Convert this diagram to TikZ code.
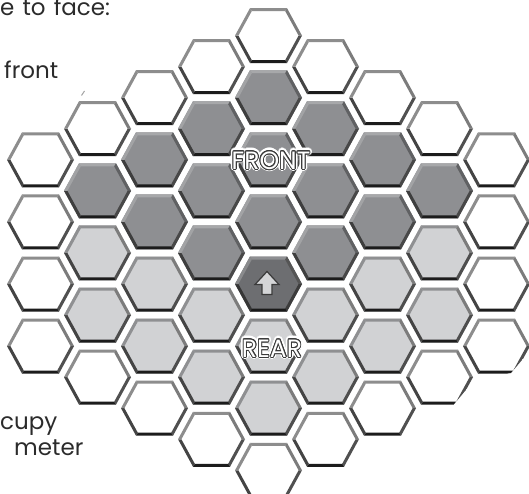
\documentclass[tikz,border=0pt]{standalone}
\usepackage{fontspec}
\setmainfont{Poppins}
\usepackage{contour}
\usetikzlibrary{calc}

% fills and bevel edge colours: f fill, t top, r upper right, R lower right, b bottom, L lower left, l upper left
\definecolor{cWf}{HTML}{FFFFFF}\definecolor{cWt}{HTML}{8D8D8D}\definecolor{cWr}{HTML}{7C7C7C}
\definecolor{cWR}{HTML}{505050}\definecolor{cWb}{HTML}{1C1C1C}\definecolor{cWL}{HTML}{444444}\definecolor{cWl}{HTML}{8D8D8D}
\definecolor{cLf}{HTML}{D1D2D4}\definecolor{cLt}{HTML}{8F9092}\definecolor{cLr}{HTML}{7C7C7C}
\definecolor{cLR}{HTML}{4E4E4E}\definecolor{cLb}{HTML}{1C1C1C}\definecolor{cLL}{HTML}{444444}\definecolor{cLl}{HTML}{8F9092}
\definecolor{cDf}{HTML}{8E8F92}\definecolor{cDt}{HTML}{A7A8AA}\definecolor{cDr}{HTML}{606163}
\definecolor{cDR}{HTML}{484848}\definecolor{cDb}{HTML}{1C1C1C}\definecolor{cDL}{HTML}{3E3E3E}\definecolor{cDl}{HTML}{A2A3A5}
\definecolor{cCf}{HTML}{6D6E71}\definecolor{cCt}{HTML}{8E8F92}\definecolor{cCr}{HTML}{555555}
\definecolor{cCR}{HTML}{3C3C3C}\definecolor{cCb}{HTML}{1A1A1A}\definecolor{cCL}{HTML}{363636}\definecolor{cCl}{HTML}{8A8B8D}
\definecolor{arrowfill}{HTML}{D4D5D7}
\definecolor{labelink}{HTML}{3A3A3A}
\definecolor{pagetext}{HTML}{2B2B2B}

% hex geometry (pixels): outer half width, half top edge, half height; inner ones
\def\hxa{33.5}\def\hxt{18.5}\def\hxb{27.5}
\def\hxai{30.1}\def\hxti{16.7}\def\hxbi{24.5}

\newcommand\hexcell[3]{% #1 x, #2 y, #3 type W/L/D/C
  \begin{scope}[shift={(#1,#2)}]
    \fill[c#3f] (-\hxt,-\hxb) -- (\hxt,-\hxb) -- (\hxa,0) -- (\hxt,\hxb) -- (-\hxt,\hxb) -- (-\hxa,0) -- cycle;
    \fill[c#3t] (-\hxt,-\hxb) -- (\hxt,-\hxb) -- (\hxti,-\hxbi) -- (-\hxti,-\hxbi) -- cycle;
    \fill[c#3r] (\hxt,-\hxb) -- (\hxa,0) -- (\hxai,0) -- (\hxti,-\hxbi) -- cycle;
    \fill[c#3R] (\hxa,0) -- (\hxt,\hxb) -- (\hxti,\hxbi) -- (\hxai,0) -- cycle;
    \fill[c#3b] (\hxt,\hxb) -- (-\hxt,\hxb) -- (-\hxti,\hxbi) -- (\hxti,\hxbi) -- cycle;
    \fill[c#3L] (-\hxt,\hxb) -- (-\hxa,0) -- (-\hxai,0) -- (-\hxti,\hxbi) -- cycle;
    \fill[c#3l] (-\hxa,0) -- (-\hxt,-\hxb) -- (-\hxti,-\hxbi) -- (-\hxai,0) -- cycle;
  \end{scope}}

\tikzset{
  pagefont/.style={font=\fontsize{23}{23}\selectfont, text=pagetext, inner sep=0pt},
  hexlabel/.style={font=\fontsize{25}{25}\selectfont, inner sep=0pt},
}

\begin{document}
\begin{tikzpicture}[x=1pt, y=-1pt]
\useasboundingbox (0,0) rectangle (529,494);
\begin{scope}
  \clip (0,0) -- (529,0) -- (529,352) -- (522,360) -- (511,373) -- (476,378)
        -- (455,403) -- (425,440) -- (390,494) -- (0,494) -- cycle;
  \foreach \k/\m/\t in {
     0/-4/W, 0/-3/D, 0/-2/D, 0/-1/D, 0/0/C, 0/1/L, 0/2/L, 0/3/W,
    -1/-3.5/W, -1/-2.5/D, -1/-1.5/D, -1/-0.5/D, -1/0.5/L, -1/1.5/L, -1/2.5/W,
     1/-3.5/W,  1/-2.5/D,  1/-1.5/D,  1/-0.5/D,  1/0.5/L,  1/1.5/L,  1/2.5/W,
    -2/-3/W, -2/-2/D, -2/-1/D, -2/0/L, -2/1/L, -2/2/W,
     2/-3/W,  2/-2/D,  2/-1/D,  2/0/L,  2/1/L,  2/2/W,
    -3/-2.5/W, -3/-1.5/D, -3/-0.5/L, -3/0.5/L, -3/1.5/W,
     3/-2.5/W,  3/-1.5/D,  3/-0.5/L,  3/0.5/L,  3/1.5/W,
    -4/-2/W, -4/-1/W, -4/0/W, -4/1/W,
     4/-2/W,  4/-1/W,  4/0/W,  4/1/W}
  {
    \pgfmathsetmacro\cx{268.5+57*\k}
    \pgfmathsetmacro\cy{284+62.1*\m}
    \hexcell{\cx}{\cy}{\t}
  }
\end{scope}

% arrow in the centre cell
\draw[fill=arrowfill, draw=labelink, line width=1.2pt, line join=miter]
  (267,271.5) -- (279,284.5) -- (272,284.5) -- (272,294.5) -- (262,294.5)
  -- (262,284.5) -- (255,284.5) -- cycle;

% outlined labels
\coordinate (frontpos) at (271,161);
\coordinate (rearpos) at (272,349);
\node[hexlabel, text=white] (fronthalo) at (frontpos) {\contourlength{2.6pt}\contour{white}{FRONT}};
\node[hexlabel, text=white] (front) at (frontpos) {\contourlength{0.9pt}\contour{labelink}{FRONT}};
\node[hexlabel, text=white] (rearhalo) at (rearpos) {\contourlength{2.6pt}\contour{white}{REAR}};
\node[hexlabel, text=white] (rear) at (rearpos) {\contourlength{0.9pt}\contour{labelink}{REAR}};

% small stray mark
\draw[gray!70, line width=1pt] (81.5,95.5) -- (84.5,91);

% cut-off page text
\node[pagefont, anchor=base west] (t1) at (0,16) {e\hspace{2pt} to\hspace{2pt} face:};
\node[pagefont, anchor=base west] (t2) at (4,79) {front};
\node[pagefont, anchor=base west] (t3) at (0,429) {cupy};
\node[pagefont, anchor=base west] (t4) at (14,455) {meter};
\end{tikzpicture}
\end{document}
